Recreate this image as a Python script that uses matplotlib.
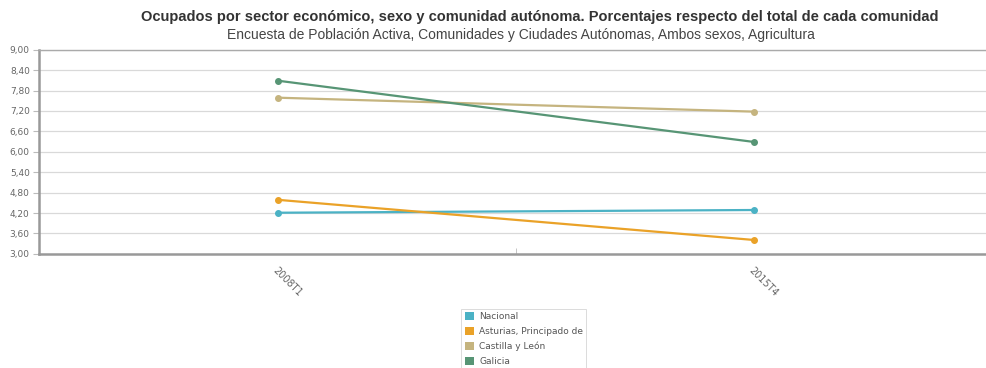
import matplotlib.pyplot as plt
from matplotlib.patches import Patch
from matplotlib.ticker import FixedLocator

# datos
periodos = ['2008T1', '2015T4']
nacional = [4.21, 4.29]
asturias = [4.59, 3.41]
castilla = [7.59, 7.18]
galicia = [8.09, 6.29]

series = ['Nacional', 'Asturias, Principado de', 'Castilla y León', 'Galicia']
colores = ['#4bb2c5', '#eaa228', '#c5b47f', '#579575']
valores = [nacional, asturias, castilla, galicia]

yticks = [3.0, 3.6, 4.2, 4.8, 5.4, 6.0, 6.6, 7.2, 7.8, 8.4, 9.0]

fig = plt.figure(figsize=(9.87, 3.68), dpi=100)
ax = fig.add_axes([0.040, 0.31, 0.965, 0.555])

x = list(range(len(periodos)))
for nombre, col, vals in zip(series, colores, valores):
    ax.plot(x, vals, color=col, lw=1.6, marker='o', ms=4, label=nombre)

ax.set_xlim(-0.5, 1.5)
ax.set_ylim(3.0, 9.0)
ax.set_yticks(yticks)
ax.set_yticklabels([f'{v:.2f}'.replace('.', ',') for v in yticks])
ax.yaxis.grid(True, color='#d9d9d9', lw=0.9)
ax.set_axisbelow(True)

ax.set_xticks(x)
ax.set_xticklabels(periodos, rotation=-45, ha='left', va='top', rotation_mode='anchor')
ax.xaxis.set_minor_locator(FixedLocator([0.5]))
ax.tick_params(axis='x', which='major', length=0, pad=8, labelsize=7, labelcolor='#666666')
ax.tick_params(axis='x', which='minor', length=4, color='#bbbbbb', direction='in')
ax.tick_params(axis='y', length=4, color='#bbbbbb', labelsize=6.5, labelcolor='#666666', pad=3)

for s in ['left', 'bottom']:
    ax.spines[s].set_color('#999999')
    ax.spines[s].set_linewidth(1.8)
ax.spines['top'].set_color('#aaaaaa')
ax.spines['top'].set_linewidth(1.0)
ax.spines['right'].set_visible(False)

fig.text(0.547, 0.955, 'Ocupados por sector económico, sexo y comunidad autónoma. Porcentajes respecto del total de cada comunidad',
         ha='center', va='center', fontsize=10.5, fontweight='bold', color='#333333',
         family='Liberation Sans')
fig.text(0.528, 0.905, 'Encuesta de Población Activa, Comunidades y Ciudades Autónomas, Ambos sexos, Agricultura',
         ha='center', va='center', fontsize=10, color='#444444', family='Liberation Sans')

handles = [Patch(facecolor=c, edgecolor='none') for c in colores]
leg = fig.legend(handles, series, loc='upper left', bbox_to_anchor=(0.463, 0.173),
                 fontsize=6.5, frameon=True, handlelength=1.0, handleheight=1.0,
                 handletextpad=0.6, labelspacing=0.62, borderpad=0.35, fancybox=False)
leg.get_frame().set_edgecolor('#cccccc')
leg.get_frame().set_linewidth(0.6)
for t in leg.get_texts():
    t.set_color('#555555')

plt.savefig('out.png', dpi=100)
